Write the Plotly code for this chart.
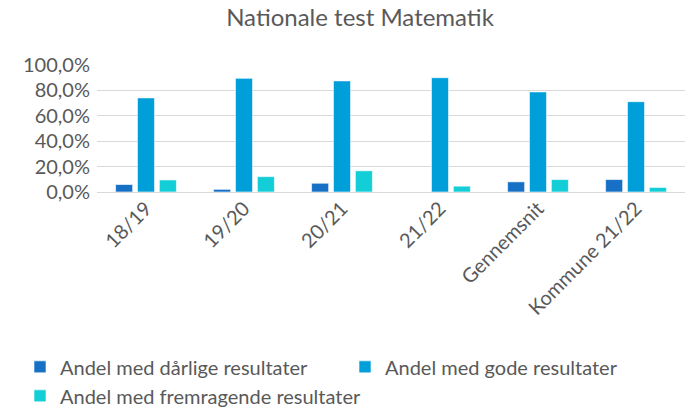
import plotly.graph_objects as go

categories = ["18/19", "19/20", "20/21", "21/22", "Gennemsnit", "Kommune 21/22"]
daarlige = [0.059, 0.021, 0.069, 0.0, 0.080, 0.098]
gode = [0.741, 0.895, 0.875, 0.900, 0.788, 0.711]
fremragende = [0.095, 0.121, 0.167, 0.046, 0.098, 0.036]

series = [
    ("Andel med dårlige resultater", daarlige, "#1570C6"),
    ("Andel med gode resultater", gode, "#009FDA"),
    ("Andel med fremragende resultater", fremragende, "#13CDD7"),
]

FONT = "Lato, 'Open Sans', sans-serif"
GREY = "#595959"

L, R, T, B = 97, 5, 65, 225
PW, PH = 690 - L - R, 420 - T - B

fig = go.Figure()
for name, vals, col in series:
    fig.add_trace(go.Bar(
        x=categories, y=vals, name=name,
        marker=dict(color=col, line=dict(color="rgba(255,255,255,0.6)", width=1)),
    ))

fig.update_layout(
    width=690, height=420,
    paper_bgcolor="white", plot_bgcolor="white",
    margin=dict(l=L, r=R, t=T, b=B),
    barmode="group", bargap=0.33, bargroupgap=0.22,
    font=dict(family=FONT, color=GREY, size=20),
    title=dict(text="Nationale test Matematik", x=360/690, xanchor="center",
               y=1 - 18/420, yanchor="middle", font=dict(size=24, color=GREY, family=FONT)),
    showlegend=True,
    legend=dict(orientation="h",
                x=(20 - L) / PW, xanchor="left", y=((420 - B) - 354) / PH, yanchor="top",
                font=dict(size=20, color=GREY, family=FONT),
                entrywidth=280, entrywidthmode="pixels", traceorder="normal",
                itemclick=False),
    separators=",.",
)
fig.update_yaxes(range=[0, 1.0], dtick=0.2, tickformat=".1%",
                 showgrid=True, gridcolor="#D9D9D9", gridwidth=1.3,
                 zeroline=True, zerolinecolor="#D9D9D9", zerolinewidth=1.3,
                 showline=False, ticks="", ticklabelstandoff=6, automargin=False,
                 tickfont=dict(size=20, color=GREY))
fig.update_xaxes(tickangle=-45, showline=False, ticks="", automargin=False,
                 tickfont=dict(size=20, color=GREY))

fig.write_html("out.html", config={"displayModeBar": False},
               post_script="document.body.style.margin='0';")
